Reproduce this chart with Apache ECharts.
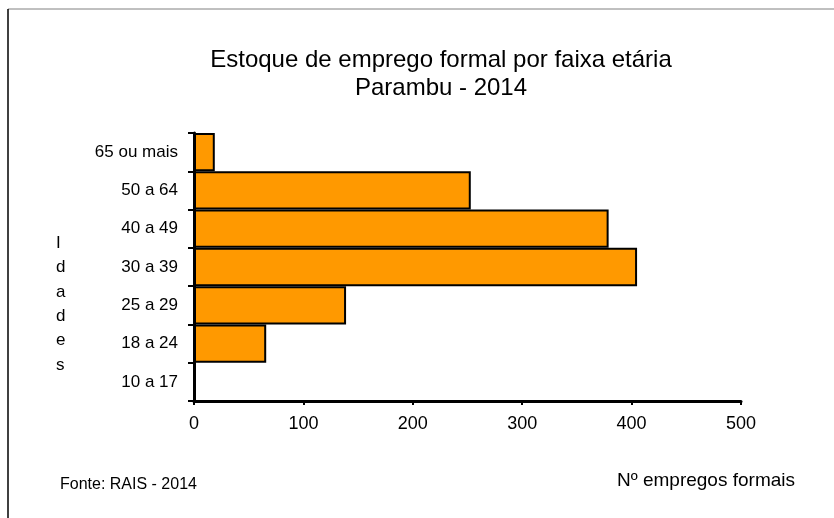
<!DOCTYPE html>
<html>
<head>
<meta charset="utf-8">
<script src="https://cdn.jsdelivr.net/npm/echarts@6/dist/echarts.min.js"></script>
<style>
    html, body { margin: 0; padding: 0; background: #fff; }
    #chart { width: 834px; height: 518px; }
</style>
</head>
<body>
<div id="chart"></div>
<script>
    // faixas etárias (de baixo para cima)
    var faixas = ['10 a 17', '18 a 24', '25 a 29', '30 a 39', '40 a 49', '50 a 64', '65 ou mais'];
    // nº de empregos formais por faixa
    var empregos = [0, 66, 139, 405, 379, 253, 19];
    var ticksX = [0, 100, 200, 300, 400, 500];

    var chart = echarts.init(document.getElementById('chart'));
    var fonte = 'Liberation Sans, Arial, sans-serif';

    var option = {
        animation: false,
        title: {
            text: 'Estoque de emprego formal por faixa etária\nParambu - 2014',
            left: 436,
            top: 41,
            textAlign: 'center',
            textStyle: {
                fontFamily: fonte,
                fontSize: 24,
                fontWeight: 'normal',
                lineHeight: 28,
                color: '#000'
            }
        },
        grid: {
            left: 194,
            right: 93,
            top: 133,
            bottom: 117
        },
        xAxis: {
            type: 'value',
            min: ticksX[0],
            max: ticksX[ticksX.length - 1],
            interval: 100,
            splitLine: { show: false },
            axisLine: { show: true, lineStyle: { color: '#000', width: 3 } },
            axisTick: { show: true, length: 4, lineStyle: { color: '#000', width: 2 } },
            axisLabel: { fontFamily: fonte, fontSize: 18, color: '#000', margin: 14 }
        },
        yAxis: {
            type: 'category',
            data: faixas,
            axisLine: { lineStyle: { color: '#000', width: 3 } },
            axisTick: { show: true, length: 6, lineStyle: { color: '#000', width: 2 } },
            axisLabel: { fontFamily: fonte, fontSize: 17, color: '#000', margin: 16 }
        },
        series: [
            {
                type: 'bar',
                data: empregos,
                barCategoryGap: '0%',
                itemStyle: {
                    color: '#FF9900',
                    borderColor: '#000',
                    borderWidth: 2
                }
            }
        ],
        graphic: [
            { type: 'line', shape: { x1: 8, y1: 9, x2: 834, y2: 9 }, style: { stroke: '#808080', lineWidth: 1 } },
            { type: 'line', shape: { x1: 8, y1: 9, x2: 8, y2: 518 }, style: { stroke: '#000', lineWidth: 1.5 } },
            {
                type: 'text', left: 56, top: 231,
                style: { text: 'I\nd\na\nd\ne\ns', font: '17px ' + fonte, lineHeight: 24.4, fill: '#000', align: 'center' }
            },
            {
                type: 'text', left: 60, top: 477,
                style: { text: 'Fonte: RAIS - 2014', font: '16px ' + fonte, fill: '#000' }
            },
            {
                type: 'text', left: 617, top: 471,
                style: { text: 'Nº empregos formais', font: '19px ' + fonte, fill: '#000' }
            }
        ]
    };
    chart.setOption(option);
</script>
</body>
</html>
